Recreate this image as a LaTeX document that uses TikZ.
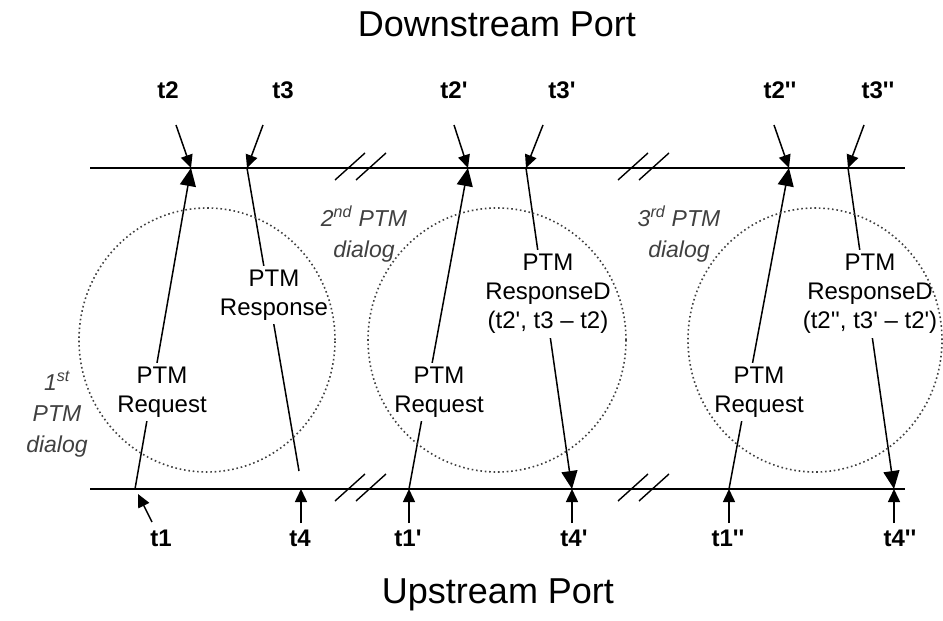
\documentclass[tikz,border=0pt]{standalone}
\usepackage{fontspec}
\setmainfont{Liberation Sans}
\usepackage{tikz}
\usetikzlibrary{arrows.meta}
\newcommand{\prm}{\textquotesingle}
\newcommand{\dprm}{\textquotesingle\textquotesingle}

\begin{document}
\begin{tikzpicture}[x=1pt,y=-1pt,
    port/.style={line width=2.2pt},
    msg/.style={line width=1.5pt,-{Triangle[length=18pt,width=16pt]}},
    msgline/.style={line width=1.5pt},
    ptr/.style={line width=1.5pt,-{Triangle[length=13pt,width=12pt]}},
    brk/.style={line width=1.4pt},
    dialog/.style={draw=black!75,line width=1.6pt,dash pattern=on 1.6pt off 2.8pt},
    tlab/.style={font=\fontsize{24}{29}\selectfont\bfseries,anchor=base},
    msglab/.style={font=\fontsize{24}{29}\selectfont,align=center,fill=white,inner sep=4pt},
    dlab/.style={font=\fontsize{23}{31}\selectfont\itshape,align=center,text=black!75},
    plab/.style={font=\fontsize{36}{40}\selectfont,anchor=base}]
    \useasboundingbox (0,0) rectangle (943,621);
    \node[plab] at(497,36)(down){Downstream Port};
    \node[plab] at(498,603)(up){Upstream Port};
    \coordinate (dl) at(90,168);
    \coordinate (dr) at(905,168);
    \coordinate (ul) at(90,489);
    \coordinate (ur) at(905,489);
    \draw[port] (dl) -- (dr) (ul) -- (ur);
    \foreach \bx in {360,643}
        \foreach \by in {168,489}
            \draw[brk] (\bx-25,\by+12) -- (\bx+5,\by-15) (\bx-4,\by+12) -- (\bx+26,\by-15);
    %
    \coordinate (b1) at(135,489);
    \coordinate (a2) at(191,168);
    \coordinate (a3) at(247,168);
    \coordinate (b4) at(299,471);
    \draw[msg] (b1) -- (a2);
    \draw[msgline] (a3) -- (b4);
    \node[msglab] at(162,392)(req1){PTM\\Request};
    \node[msglab] at(274,295)(resp1){PTM\\Response};
    \node[tlab] at(168,98)(t2){t2};
    \node[tlab] at(283,98)(t3){t3};
    \node[tlab] at(161,546)(t1){t1};
    \node[tlab] at(300,546)(t4){t4};
    \coordinate (s2) at(176,125);
    \coordinate (s3) at(263,125);
    \coordinate (s1) at(152,522);
    \coordinate (e1) at(138,494);
    \coordinate (s4) at(301,523);
    \coordinate (e4) at(301,489);
    \draw[ptr] (s2) -- (a2);
    \draw[ptr] (s3) -- (a3);
    \draw[ptr] (s1) -- (e1);
    \draw[ptr] (s4) -- (e4);
    %
    \coordinate (b1p) at(409,489);
    \coordinate (a2p) at(468,168);
    \coordinate (a3p) at(526,168);
    \coordinate (b4p) at(572,489);
    \draw[msg] (b1p) -- (a2p);
    \draw[msg] (a3p) -- (b4p);
    \node[msglab] at(439,392)(req2){PTM\\Request};
    \node[msglab] at(548,294)(resp2){PTM\\ResponseD\\(t2\prm, t3 – t2)};
    \node[tlab] at(454,98)(t2p){t2\prm};
    \node[tlab] at(562,98)(t3p){t3\prm};
    \node[tlab] at(408,546)(t1p){t1\prm};
    \node[tlab] at(574,546)(t4p){t4\prm};
    \coordinate (s2p) at(454,125);
    \coordinate (s3p) at(543,125);
    \coordinate (s1p) at(409,523);
    \coordinate (s4p) at(572,523);
    \draw[ptr] (s2p) -- (a2p);
    \draw[ptr] (s3p) -- (a3p);
    \draw[ptr] (s1p) -- (b1p);
    \draw[ptr] (s4p) -- (b4p);
    %
    \coordinate (b1pp) at(729,489);
    \coordinate (a2pp) at(789,168);
    \coordinate (a3pp) at(848,168);
    \coordinate (b4pp) at(894,489);
    \draw[msg] (b1pp) -- (a2pp);
    \draw[msg] (a3pp) -- (b4pp);
    \node[msglab] at(759,392)(req3){PTM\\Request};
    \node[msglab] at(870,294)(resp3){PTM\\ResponseD\\(t2\dprm, t3\prm{} – t2\prm)};
    \node[tlab] at(780,98)(t2pp){t2\dprm};
    \node[tlab] at(878,98)(t3pp){t3\dprm};
    \node[tlab] at(728,546)(t1pp){t1\dprm};
    \node[tlab] at(900,546)(t4pp){t4\dprm};
    \coordinate (s2pp) at(774,125);
    \coordinate (s3pp) at(864,125);
    \coordinate (s1pp) at(729,523);
    \coordinate (s4pp) at(894,523);
    \draw[ptr] (s2pp) -- (a2pp);
    \draw[ptr] (s3pp) -- (a3pp);
    \draw[ptr] (s1pp) -- (b1pp);
    \draw[ptr] (s4pp) -- (b4pp);
    %
    \draw[dialog] (207,340) ellipse [x radius=128pt, y radius=132pt];
    \draw[dialog] (497,340) ellipse [x radius=129pt, y radius=132pt];
    \draw[dialog] (815,340) ellipse [x radius=127pt, y radius=132pt];
    \node[dlab] at(57,414)(dlg1){1\textsuperscript{st}\\PTM\\dialog};
    \node[dlab] at(364,234)(dlg2){2\textsuperscript{nd} PTM\\dialog};
    \node[dlab] at(679,234)(dlg3){3\textsuperscript{rd} PTM\\dialog};
\end{tikzpicture}
\end{document}
